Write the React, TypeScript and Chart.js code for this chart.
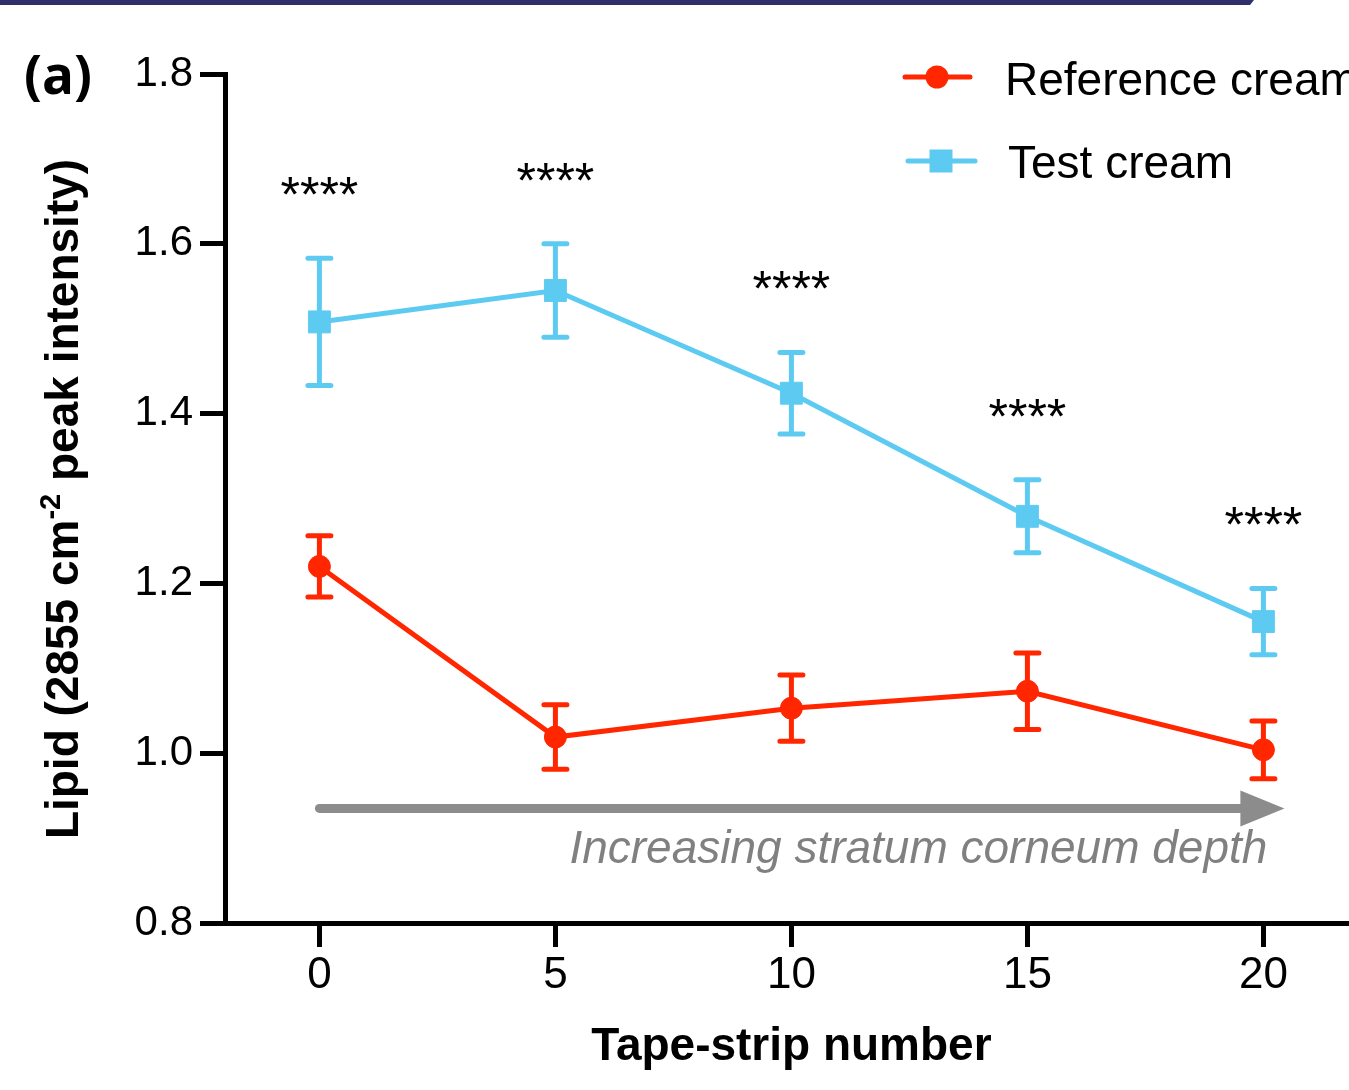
import React, { useEffect, useRef } from "react";
import { Chart, registerables } from "chart.js";

Chart.register(...registerables);

// ---- data ----
const tapeStrips = [0, 5, 10, 15, 20];
const referenceMean = [1.22, 1.019, 1.053, 1.073, 1.004];
const referenceErr = [0.036, 0.038, 0.039, 0.045, 0.034];
const testMean = [1.508, 1.545, 1.424, 1.279, 1.155];
const testErr = [0.075, 0.055, 0.048, 0.043, 0.039];
const significance = ["****", "****", "****", "****", "****"];
const xTicks = [0, 5, 10, 15, 20];
const yTicks = [0.8, 1.0, 1.2, 1.4, 1.6, 1.8];
const seriesNames = ["Reference cream", "Test cream"];
const panelLabel = "(a)";
const xTitle = "Tape-strip number";
const yTitleParts = ["Lipid (2855 cm", "-2", " peak intensity)"];
const arrowText = "Increasing stratum corneum depth";

const W = 1349;
const H = 1090;
const RED = "#FF2600";
const BLUE = "#5DCBF1";
const FONT = '"Liberation Sans", Arial, sans-serif';

const decorPlugin = {
  id: "decor",
  beforeDatasetsDraw(chart: any) {
    const ctx = chart.ctx;
    const xs = chart.scales.x;
    const ys = chart.scales.y;
    chart.data.datasets.forEach((ds: any) => {
      const errs: number[] = ds.errors;
      ctx.save();
      ctx.strokeStyle = ds.borderColor;
      ctx.lineWidth = 5;
      ctx.lineCap = "round";
      ds.data.forEach((p: any, i: number) => {
        const px = xs.getPixelForValue(p.x);
        const top = ys.getPixelForValue(p.y + errs[i]);
        const bot = ys.getPixelForValue(p.y - errs[i]);
        ctx.beginPath();
        ctx.moveTo(px, top);
        ctx.lineTo(px, bot);
        ctx.moveTo(px - 11.5, top);
        ctx.lineTo(px + 11.5, top);
        ctx.moveTo(px - 11.5, bot);
        ctx.lineTo(px + 11.5, bot);
        ctx.stroke();
      });
      ctx.restore();
    });
  },
  afterDraw(chart: any) {
    const ctx = chart.ctx;
    const xs = chart.scales.x;
    const ys = chart.scales.y;
    ctx.save();

    // top navy band
    ctx.fillStyle = "#2F2F6B";
    ctx.beginPath();
    ctx.moveTo(0, 0);
    ctx.lineTo(1254, 0);
    ctx.lineTo(1250, 5);
    ctx.lineTo(0, 5);
    ctx.closePath();
    ctx.fill();

    // panel label
    ctx.fillStyle = "#000";
    ctx.font = 'bold 53px "Open Sans", sans-serif';
    ctx.textAlign = "left";
    ctx.textBaseline = "alphabetic";
    ctx.fillText(panelLabel, 24, 94);

    // x title
    ctx.font = `bold 46px ${FONT}`;
    ctx.textAlign = "center";
    ctx.fillText(xTitle, xs.getPixelForValue(10), 1060);

    // y title (rotated with superscript)
    ctx.save();
    ctx.translate(78, 499);
    ctx.rotate(-Math.PI / 2);
    const bigFont = `bold 46px ${FONT}`;
    const supFont = `bold 29px ${FONT}`;
    ctx.font = bigFont;
    const w1 = ctx.measureText(yTitleParts[0]).width;
    const w3 = ctx.measureText(yTitleParts[2]).width;
    ctx.font = supFont;
    const w2 = ctx.measureText(yTitleParts[1]).width;
    const total = w1 + w2 + w3;
    let cx = -total / 2;
    ctx.textAlign = "left";
    ctx.font = bigFont;
    ctx.fillText(yTitleParts[0], cx, 0);
    cx += w1;
    ctx.font = supFont;
    ctx.fillText(yTitleParts[1], cx, -18);
    cx += w2;
    ctx.font = bigFont;
    ctx.fillText(yTitleParts[2], cx, 0);
    ctx.restore();

    // significance stars
    ctx.fillStyle = "#000";
    ctx.font = `50px ${FONT}`;
    ctx.textAlign = "center";
    ctx.textBaseline = "alphabetic";
    tapeStrips.forEach((t, i) => {
      const px = xs.getPixelForValue(t);
      const upper = ys.getPixelForValue(testMean[i] + testErr[i]);
      ctx.fillText(significance[i], px, upper - 46);
    });

    // depth arrow
    const ay = ys.getPixelForValue(0.935);
    const ax0 = xs.getPixelForValue(0);
    const tipX = xs.getPixelForValue(20) + 21;
    const baseX = xs.getPixelForValue(20) - 23;
    ctx.strokeStyle = "#8C8C8C";
    ctx.fillStyle = "#8C8C8C";
    ctx.lineWidth = 9;
    ctx.lineCap = "round";
    ctx.beginPath();
    ctx.moveTo(ax0, ay);
    ctx.lineTo(baseX + 2, ay);
    ctx.stroke();
    ctx.beginPath();
    ctx.moveTo(baseX, ay - 18);
    ctx.lineTo(tipX, ay);
    ctx.lineTo(baseX, ay + 18);
    ctx.closePath();
    ctx.fill();

    ctx.fillStyle = "#808080";
    ctx.font = `italic 46px ${FONT}`;
    ctx.textAlign = "right";
    ctx.fillText(arrowText, xs.getPixelForValue(20) + 4, ay + 55);

    // legend
    const items = [
      { color: RED, shape: "circle", lx0: 905, lx1: 970, mx: 937, y: 77, tx: 1005, ty: 95 },
      { color: BLUE, shape: "square", lx0: 908, lx1: 975, mx: 941, y: 161, tx: 1008, ty: 178 },
    ];
    items.forEach((it, i) => {
      ctx.strokeStyle = it.color;
      ctx.fillStyle = it.color;
      ctx.lineWidth = 5;
      ctx.lineCap = "round";
      ctx.beginPath();
      ctx.moveTo(it.lx0, it.y);
      ctx.lineTo(it.lx1, it.y);
      ctx.stroke();
      ctx.beginPath();
      if (it.shape === "circle") {
        ctx.arc(it.mx, it.y, 11.5, 0, Math.PI * 2);
      } else {
        ctx.rect(it.mx - 11.5, it.y - 11.5, 23, 23);
      }
      ctx.fill();
      ctx.fillStyle = "#000";
      ctx.font = `46px ${FONT}`;
      ctx.textAlign = "left";
      ctx.fillText(seriesNames[i], it.tx, it.ty);
    });

    ctx.restore();
  },
};

export default function App() {
  const canvasRef = useRef<HTMLCanvasElement | null>(null);

  useEffect(() => {
    const canvas = canvasRef.current;
    if (!canvas) return;
    const chart = new Chart(canvas, {
      type: "line",
      data: {
        datasets: [
          {
            label: seriesNames[0],
            data: tapeStrips.map((t, i) => ({ x: t, y: referenceMean[i] })),
            errors: referenceErr,
            borderColor: RED,
            backgroundColor: RED,
            borderWidth: 5,
            pointStyle: "circle",
            pointRadius: 11,
            pointBorderWidth: 1,
            pointBackgroundColor: RED,
            pointBorderColor: RED,
            tension: 0,
            clip: false,
          } as any,
          {
            label: seriesNames[1],
            data: tapeStrips.map((t, i) => ({ x: t, y: testMean[i] })),
            errors: testErr,
            borderColor: BLUE,
            backgroundColor: BLUE,
            borderWidth: 5,
            pointStyle: "rect",
            pointRadius: 15.5,
            pointBorderWidth: 1,
            pointBackgroundColor: BLUE,
            pointBorderColor: BLUE,
            tension: 0,
            clip: false,
          } as any,
        ],
      },
      options: {
        responsive: false,
        animation: false,
        devicePixelRatio: 1,
        layout: { autoPadding: false, padding: { left: 0, top: 74, right: 0, bottom: 0 } },
        plugins: {
          legend: { display: false },
          tooltip: { enabled: false },
        },
        scales: {
          x: {
            type: "linear",
            min: -2,
            max: -2 + (W - 225) / 47.2,
            afterFit: (s: any) => {
              s.height = H - 923;
              s.paddingLeft = 0;
              s.paddingRight = 0;
              s.paddingTop = 0;
              s.paddingBottom = 0;
            },
            afterBuildTicks: (s: any) => {
              s.ticks = xTicks.map((v) => ({ value: v }));
            },
            grid: {
              drawOnChartArea: false,
              drawTicks: true,
              tickLength: 24,
              tickWidth: 5,
              tickColor: "#000",
            },
            border: { display: true, color: "#000", width: 5 },
            ticks: {
              color: "#000",
              font: { family: FONT, size: 44 },
              padding: 2,
              maxRotation: 0,
            },
          },
          y: {
            type: "linear",
            min: 0.8,
            max: 1.8,
            afterFit: (s: any) => {
              s.width = 225;
              s.paddingLeft = 0;
              s.paddingRight = 0;
              s.paddingTop = 0;
              s.paddingBottom = 0;
            },
            afterBuildTicks: (s: any) => {
              s.ticks = yTicks.map((v) => ({ value: v }));
            },
            grid: {
              drawOnChartArea: false,
              drawTicks: true,
              tickLength: 25,
              tickWidth: 5,
              tickColor: "#000",
            },
            border: { display: true, color: "#000", width: 5 },
            ticks: {
              color: "#000",
              font: { family: FONT, size: 42 },
              padding: 7,
              callback: (v: any) => Number(v).toFixed(1),
            },
          },
        },
      } as any,
      plugins: [decorPlugin],
    });
    return () => chart.destroy();
  }, []);

  return (
    <div
      style={{
        position: "absolute",
        left: 0,
        top: 0,
        width: W,
        height: H,
        overflow: "hidden",
        background: "#fff",
      }}
    >
      <canvas ref={canvasRef} width={W} height={H} style={{ display: "block" }} />
    </div>
  );
}
